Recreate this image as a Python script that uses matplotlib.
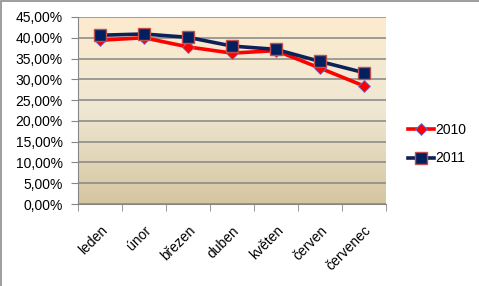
import numpy as np
import matplotlib.pyplot as plt
from matplotlib.ticker import FuncFormatter
from matplotlib.colors import LinearSegmentedColormap
from matplotlib.patches import Rectangle

months = ['leden', 'únor', 'březen', 'duben', 'květen', 'červen', 'červenec']
v2010 = [39.4, 40.0, 37.8, 36.3, 36.9, 32.7, 28.4]
v2011 = [40.6, 40.9, 40.1, 38.0, 37.2, 34.3, 31.6]

plt.rcParams['font.family'] = ['Liberation Sans', 'DejaVu Sans']

fig = plt.figure(figsize=(4.79, 2.86), dpi=100)
fig.patches.append(Rectangle((0.003, -0.01), 1.2, 1.006, transform=fig.transFigure,
                             fill=False, edgecolor='#8c8c8c', lw=1.2))
ax = fig.add_axes([0.1628, 0.2867, 0.643, 0.654])

x = np.arange(len(months))
# background gradient
cmap = LinearSegmentedColormap.from_list('bg', ['#d5c6a0', '#efe7d3', '#fdebce'])
grad = np.linspace(0, 1, 256).reshape(-1, 1)
ax.imshow(grad, aspect='auto', cmap=cmap, origin='lower',
          extent=[-0.5, len(months) - 0.5, 0, 45], zorder=0)

ax.set_xlim(-0.5, len(months) - 0.5)
ax.set_ylim(0, 45)
ax.set_yticks(np.arange(0, 46, 5))
ax.yaxis.set_major_formatter(FuncFormatter(lambda v, p: f'{v:.2f}%'.replace('.', ',')))
ax.grid(axis='y', color='#868686', lw=1.1, zorder=1)

ax.plot(x, v2010, color='#ff0000', lw=2.6, marker='D', ms=6,
        mfc='#ff0000', mec='#6f6fd0', mew=0.6, label='2010', zorder=3)
ax.plot(x, v2011, color='#0d2158', lw=2.6, marker='s', ms=8,
        mfc='#002060', mec='#c0504d', mew=1.0, label='2011', zorder=4)

ax.set_xticks(x)
ax.set_xticklabels(months, rotation=45, ha='right', rotation_mode='anchor', fontsize=10)
ax.set_xticks(np.arange(-0.5, len(months), 1), minor=True)
ax.tick_params(axis='x', which='major', length=0, pad=14)
ax.tick_params(axis='x', which='minor', length=5, color='#868686')
ax.tick_params(axis='y', length=5, color='#868686', labelsize=10, pad=6)
for s in ['top', 'right']:
    ax.spines[s].set_visible(False)
for s in ['left', 'bottom']:
    ax.spines[s].set_color('#868686')

ax.legend(loc='center left', bbox_to_anchor=(1.03, 0.32), frameon=False,
          fontsize=10, handlelength=1.9, handletextpad=0.1, labelspacing=1.05)

fig.savefig('out.png', dpi=100)
